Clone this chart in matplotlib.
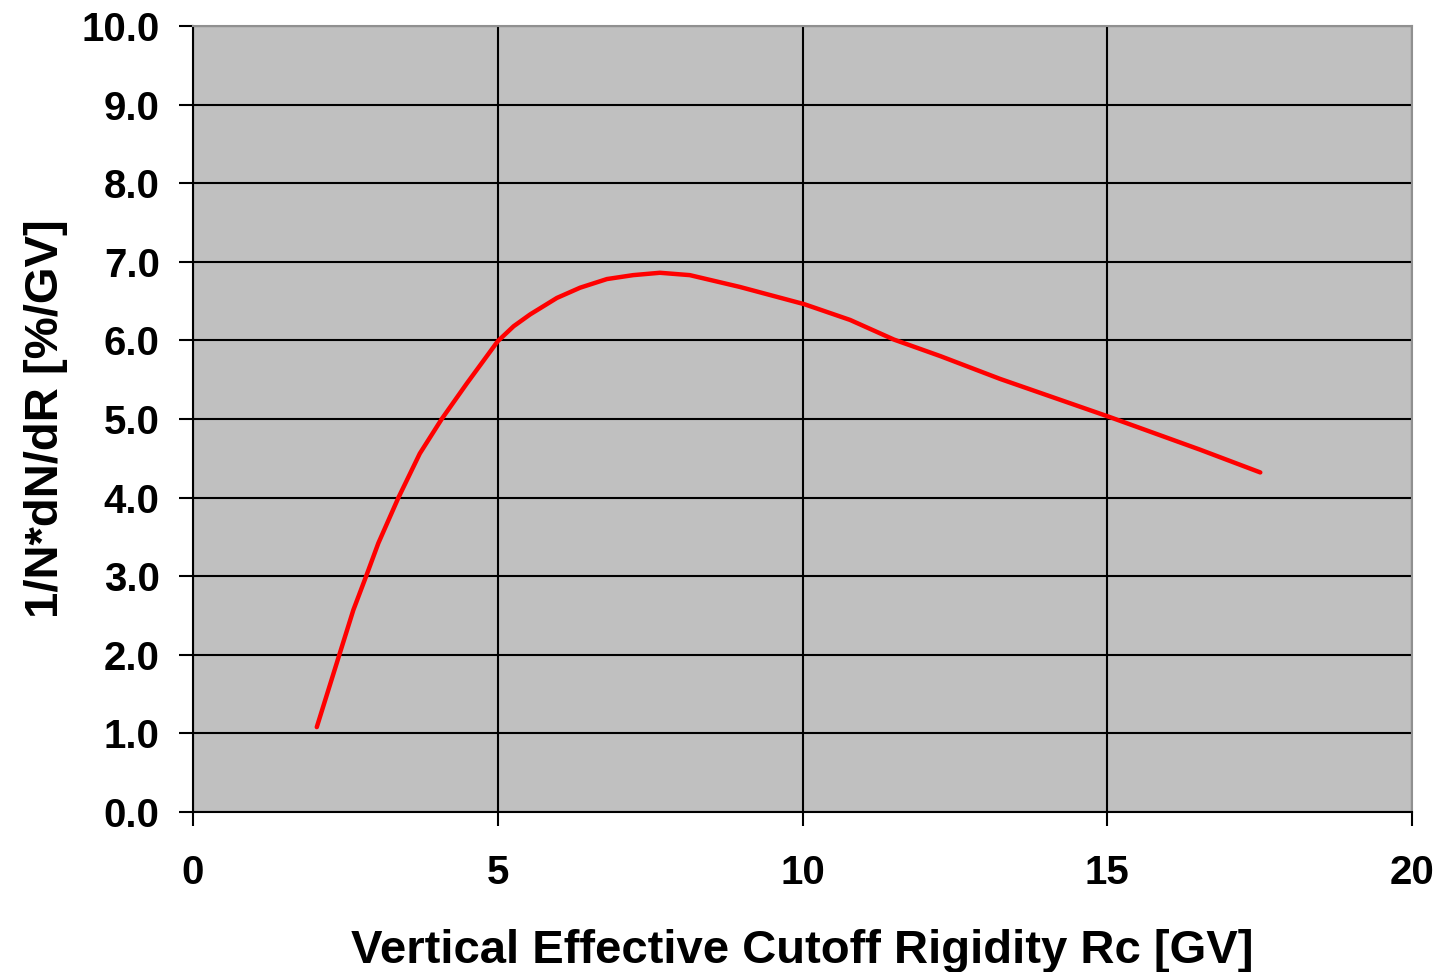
import matplotlib
matplotlib.use("Agg")
import matplotlib.pyplot as plt
import numpy as np

rigidity = [2.03, 2.40, 2.63, 2.84, 3.04, 3.37, 3.72, 4.08, 4.49, 5.00, 5.26, 5.53,
            5.97, 6.35, 6.79, 7.22, 7.66, 8.15, 8.97, 10.03, 10.78, 11.5, 12.26,
            13.24, 15.02, 16.52, 17.51]
dndr = [1.08, 2.00, 2.57, 3.00, 3.42, 4.00, 4.56, 5.00, 5.45, 5.99, 6.18, 6.33,
        6.54, 6.67, 6.78, 6.83, 6.86, 6.83, 6.68, 6.46, 6.26, 6.01, 5.80,
        5.51, 5.03, 4.61, 4.32]

x_ticks = [0, 5, 10, 15, 20]
y_ticks = np.arange(0, 10.01, 1.0)

plt.rcParams["font.family"] = ["Liberation Sans", "DejaVu Sans"]
plt.rcParams["font.weight"] = "bold"

fig = plt.figure(figsize=(14.45, 9.72), dpi=100)
ax = fig.add_axes([0.1336, 0.1646, 0.8436, 0.8087])
ax.set_facecolor("#c0c0c0")

ax.plot(rigidity, dndr, color="red", lw=3.2, solid_capstyle="round",
        solid_joinstyle="round")

ax.set_xlim(0, 20)
ax.set_ylim(0, 10)
ax.set_xticks(x_ticks)
ax.set_yticks(y_ticks)
ax.set_yticklabels([f"{v:.1f}" for v in y_ticks])
ax.grid(True, color="black", lw=1.5)
ax.set_axisbelow(True)

for side in ["top", "right"]:
    ax.spines[side].set_color("#909090")
    ax.spines[side].set_linewidth(1.5)
for side in ["left", "bottom"]:
    ax.spines[side].set_color("black")
    ax.spines[side].set_linewidth(1.5)

ax.tick_params(axis="both", direction="out", length=10, width=1.5, labelsize=29)
ax.tick_params(axis="x", pad=20)
ax.tick_params(axis="y", pad=14)

ax.set_xlabel("Vertical Effective Cutoff Rigidity Rc [GV]", fontsize=34,
              fontweight="bold", labelpad=27)
ax.set_ylabel("1/N*dN/dR [%/GV]", fontsize=34, fontweight="bold", labelpad=10)

fig.savefig("out.png", dpi=100)
